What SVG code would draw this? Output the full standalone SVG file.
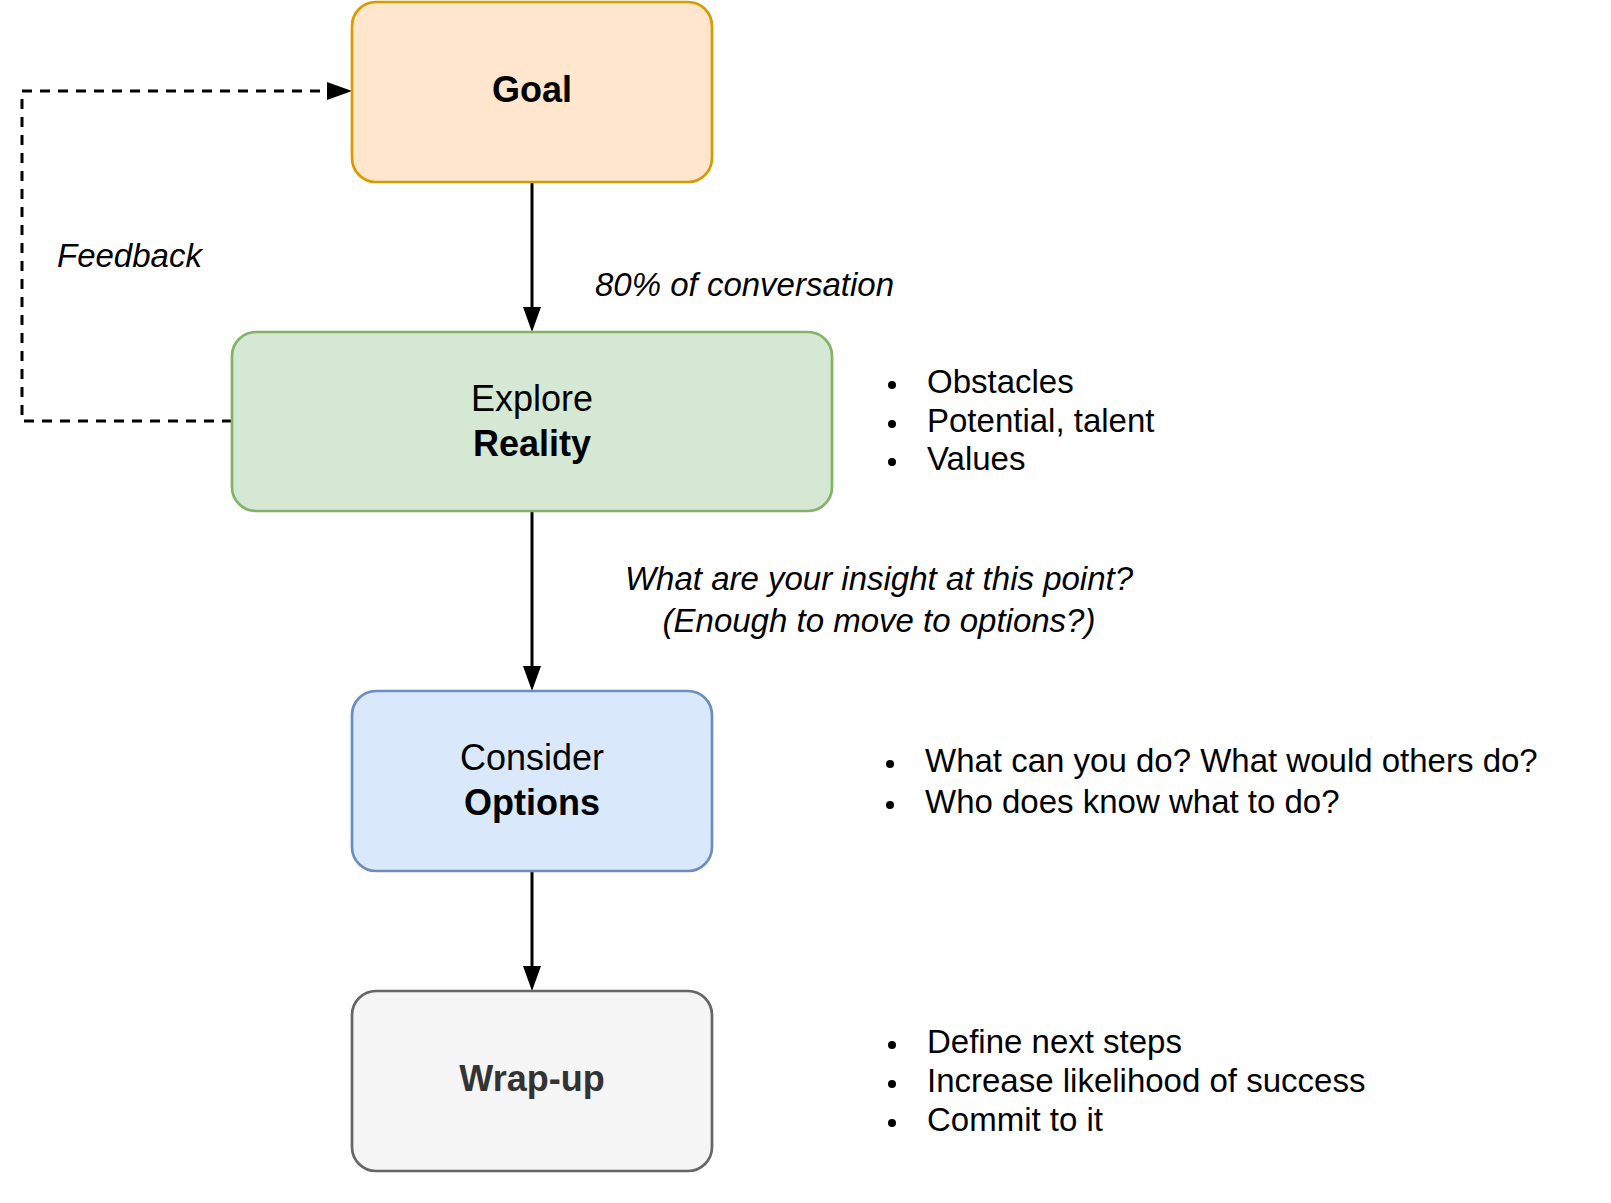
<svg xmlns="http://www.w3.org/2000/svg" width="1611" height="1203" viewBox="0 0 1611 1203">
<defs>
<marker id="arrow" viewBox="0 0 25 18" refX="25" refY="9" markerWidth="25" markerHeight="18" markerUnits="userSpaceOnUse" orient="auto">
<path d="M0,0 L25,9 L0,18 Z" fill="#000"/>
</marker>
<style>
.box{stroke-width:2.7}
.t{font-family:"Liberation Sans",Arial,Helvetica,sans-serif;fill:#000}
.bt{font-size:36px;text-anchor:middle}
.b{font-weight:bold}
.lbl{font-size:33px}
.it{font-style:italic}
.conn{fill:none;stroke:#000;stroke-width:3}
.dash{stroke-dasharray:10 8}
</style>
</defs>
<rect width="1611" height="1203" fill="#fff"/>
<g id="connectors">
<path class="conn" d="M532,182 L532,308"/>
<path d="M523,307 L532,332 L541,307 Z" fill="#000"/>
<path class="conn" d="M532,511 L532,667"/>
<path d="M523,666 L532,691 L541,666 Z" fill="#000"/>
<path class="conn" d="M532,871 L532,967"/>
<path d="M523,966 L532,991 L541,966 Z" fill="#000"/>
<path class="conn dash" d="M232,421 L22,421 L22,91 L328,91"/>
<path d="M327,82 L352,91 L327,100 Z" fill="#000"/>
</g>
<g id="goal">
<rect class="box" x="352" y="2" width="360" height="180" rx="24" ry="24" fill="#ffe6cc" stroke="#d79b00"/>
<text class="t bt b" x="532" y="102">Goal</text>
</g>
<g id="reality">
<rect class="box" x="232" y="332" width="600" height="179" rx="24" ry="24" fill="#d5e8d4" stroke="#82b366"/>
<text class="t bt" x="532" y="411">Explore</text>
<text class="t bt b" x="532" y="456">Reality</text>
</g>
<g id="options">
<rect class="box" x="352" y="691" width="360" height="180" rx="24" ry="24" fill="#dae8fc" stroke="#6c8ebf"/>
<text class="t bt" x="532" y="770">Consider</text>
<text class="t bt b" x="532" y="815">Options</text>
</g>
<g id="wrapup">
<rect class="box" x="352" y="991" width="360" height="180" rx="24" ry="24" fill="#f5f5f5" stroke="#666666"/>
<text class="t bt b" x="532" y="1091" style="fill:#333333">Wrap-up</text>
</g>
<g id="feedback-label">
<text class="t lbl it" x="57" y="267">Feedback</text>
</g>
<g id="conversation-label">
<text class="t lbl it" x="595" y="296">80% of conversation</text>
</g>
<g id="insight-label">
<text class="t lbl it" x="879" y="590" text-anchor="middle">What are your insight at this point?</text>
<text class="t lbl it" x="879" y="632" text-anchor="middle">(Enough to move to options?)</text>
</g>
<g id="reality-notes">
<circle cx="892" cy="385" r="4"/>
<circle cx="892" cy="424" r="4"/>
<circle cx="892" cy="462" r="4"/>
<text class="t lbl" x="927" y="393">Obstacles</text>
<text class="t lbl" x="927" y="432">Potential, talent</text>
<text class="t lbl" x="927" y="470">Values</text>
</g>
<g id="options-notes">
<circle cx="890" cy="764" r="4"/>
<circle cx="890" cy="805" r="4"/>
<text class="t lbl" x="925" y="772">What can you do? What would others do?</text>
<text class="t lbl" x="925" y="813">Who does know what to do?</text>
</g>
<g id="wrapup-notes">
<circle cx="892" cy="1045" r="4"/>
<circle cx="892" cy="1084" r="4"/>
<circle cx="892" cy="1123" r="4"/>
<text class="t lbl" x="927" y="1053">Define next steps</text>
<text class="t lbl" x="927" y="1092">Increase likelihood of success</text>
<text class="t lbl" x="927" y="1131">Commit to it</text>
</g>
</svg>
